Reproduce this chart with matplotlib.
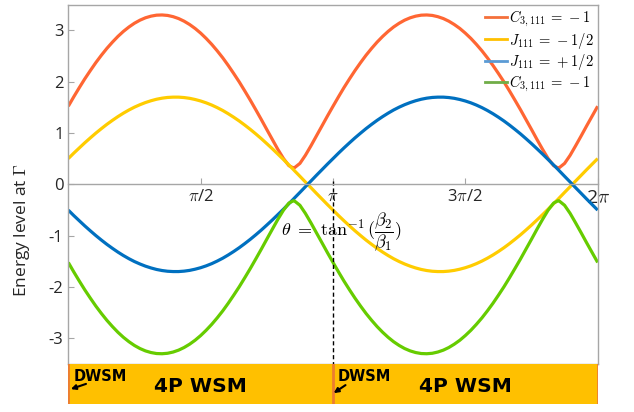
import numpy as np
import matplotlib
matplotlib.use('Agg')
from matplotlib import pyplot as plt
from matplotlib.lines import Line2D

plt.rcParams['font.family'] = 'Open Sans'
plt.rcParams['mathtext.fontset'] = 'cm'

# angle theta (rad) and the four energy levels
theta = [0.000, 0.065, 0.131, 0.196, 0.262, 0.327, 0.393, 0.458, 0.524, 0.589, 0.654, 0.720, 0.785,
         0.851, 0.916, 0.982, 1.047, 1.113, 1.178, 1.244, 1.309, 1.374, 1.440, 1.505, 1.571, 1.636,
         1.702, 1.767, 1.833, 1.898, 1.963, 2.029, 2.094, 2.160, 2.225, 2.291, 2.356, 2.422, 2.487,
         2.553, 2.618, 2.671, 2.683, 2.749, 2.814, 2.880, 2.945, 3.011, 3.076, 3.142, 3.207, 3.272,
         3.338, 3.403, 3.469, 3.534, 3.600, 3.665, 3.731, 3.796, 3.861, 3.927, 3.992, 4.058, 4.123,
         4.189, 4.254, 4.320, 4.385, 4.451, 4.516, 4.581, 4.647, 4.712, 4.778, 4.843, 4.909, 4.974,
         5.040, 5.105, 5.171, 5.236, 5.301, 5.367, 5.432, 5.498, 5.563, 5.629, 5.694, 5.760, 5.813,
         5.825, 5.890, 5.956, 6.021, 6.087, 6.152, 6.218, 6.283]
c3_up = [1.522, 1.706, 1.885, 2.056, 2.218, 2.372, 2.516, 2.649, 2.771, 2.882, 2.980, 3.066, 3.139,
         3.199, 3.245, 3.277, 3.296, 3.300, 3.291, 3.267, 3.230, 3.179, 3.114, 3.037, 2.946, 2.843,
         2.728, 2.602, 2.465, 2.317, 2.160, 1.995, 1.821, 1.640, 1.454, 1.262, 1.068, 0.873, 0.682,
         0.505, 0.365, 0.320, 0.322, 0.408, 0.566, 0.751, 0.944, 1.139, 1.332, 1.522,
         1.706, 1.885, 2.056, 2.218, 2.372, 2.516, 2.649, 2.771, 2.882, 2.980, 3.066, 3.139, 3.199,
         3.245, 3.277, 3.296, 3.300, 3.291, 3.267, 3.230, 3.179, 3.114, 3.037, 2.946, 2.843, 2.728,
         2.602, 2.465, 2.317, 2.160, 1.995, 1.821, 1.640, 1.454, 1.262, 1.068, 0.873, 0.682, 0.505,
         0.365, 0.320, 0.322, 0.408, 0.566, 0.751, 0.944, 1.139, 1.332, 1.522]
j_minus = [0.502, 0.608, 0.710, 0.810, 0.906, 0.998, 1.086, 1.169, 1.247, 1.320, 1.387, 1.449, 1.504,
           1.552, 1.594, 1.629, 1.658, 1.679, 1.693, 1.699, 1.699, 1.691, 1.676, 1.653, 1.624, 1.588,
           1.545, 1.495, 1.439, 1.376, 1.308, 1.234, 1.155, 1.071, 0.983, 0.890, 0.793, 0.693, 0.590,
           0.485, 0.377, 0.289, 0.268, 0.157, 0.046, -0.065, -0.176, -0.286, -0.395, -0.502,
           -0.608, -0.710, -0.810, -0.906, -0.998, -1.086, -1.169, -1.247, -1.320, -1.387, -1.449,
           -1.504, -1.552, -1.594, -1.629, -1.658, -1.679, -1.693, -1.699, -1.699, -1.691, -1.676,
           -1.653, -1.624, -1.588, -1.545, -1.495, -1.439, -1.376, -1.308, -1.234, -1.155, -1.071,
           -0.983, -0.890, -0.793, -0.693, -0.590, -0.485, -0.377, -0.289, -0.268, -0.157, -0.046,
           0.065, 0.176, 0.286, 0.395, 0.502]
j_plus = [-0.502, -0.608, -0.710, -0.810, -0.906, -0.998, -1.086, -1.169, -1.247, -1.320, -1.387,
          -1.449, -1.504, -1.552, -1.594, -1.629, -1.658, -1.679, -1.693, -1.699, -1.699, -1.691,
          -1.676, -1.653, -1.624, -1.588, -1.545, -1.495, -1.439, -1.376, -1.308, -1.234, -1.155,
          -1.071, -0.983, -0.890, -0.793, -0.693, -0.590, -0.485, -0.377, -0.289, -0.268, -0.157,
          -0.046, 0.065, 0.176, 0.286, 0.395, 0.502,
          0.608, 0.710, 0.810, 0.906, 0.998, 1.086, 1.169, 1.247, 1.320, 1.387, 1.449, 1.504, 1.552,
          1.594, 1.629, 1.658, 1.679, 1.693, 1.699, 1.699, 1.691, 1.676, 1.653, 1.624, 1.588, 1.545,
          1.495, 1.439, 1.376, 1.308, 1.234, 1.155, 1.071, 0.983, 0.890, 0.793, 0.693, 0.590, 0.485,
          0.377, 0.289, 0.268, 0.157, 0.046, -0.065, -0.176, -0.286, -0.395, -0.502]
c3_dn = [-1.522, -1.706, -1.885, -2.056, -2.218, -2.372, -2.516, -2.649, -2.771, -2.882, -2.980,
         -3.066, -3.139, -3.199, -3.245, -3.277, -3.296, -3.300, -3.291, -3.267, -3.230, -3.179,
         -3.114, -3.037, -2.946, -2.843, -2.728, -2.602, -2.465, -2.317, -2.160, -1.995, -1.821,
         -1.640, -1.454, -1.262, -1.068, -0.873, -0.682, -0.505, -0.365, -0.320, -0.322, -0.408,
         -0.566, -0.751, -0.944, -1.139, -1.332, -1.522,
         -1.706, -1.885, -2.056, -2.218, -2.372, -2.516, -2.649, -2.771, -2.882, -2.980, -3.066,
         -3.139, -3.199, -3.245, -3.277, -3.296, -3.300, -3.291, -3.267, -3.230, -3.179, -3.114,
         -3.037, -2.946, -2.843, -2.728, -2.602, -2.465, -2.317, -2.160, -1.995, -1.821, -1.640,
         -1.454, -1.262, -1.068, -0.873, -0.682, -0.505, -0.365, -0.320, -0.322, -0.408, -0.566,
         -0.751, -0.944, -1.139, -1.332, -1.522]

labels = [r'$C_{3,111}\,=\,-1$', r'$J_{111}\,=\,-1/2$', r'$J_{111}\,=\,+1/2$', r'$C_{3,111}\,=\,-1$']
line_colors = ['#FF6633', '#FFCC00', '#0070C0', '#66CC00']
legend_colors = ['#F4703B', '#FFC000', '#5B9BD5', '#70AD47']

xticks = [np.pi / 2, np.pi, 3 * np.pi / 2, 2 * np.pi]
xticklabels = [r'$\pi$/2', r'$\pi$', r'3$\pi$/2', r'2$\pi$']
yticks = [-3, -2, -1, 0, 1, 2, 3]

band_labels = ['4P WSM', '4P WSM']
band_pos = [np.pi / 2, 3 * np.pi / 2]

W, H = 634, 412
fig = plt.figure(figsize=(W / 100, H / 100), dpi=100)
ax = fig.add_axes([68.3 / W, 1 - 364 / H, 529.4 / W, 359.3 / H])
band = fig.add_axes([68.3 / W, 1 - 404.3 / H, 529.4 / W, 40 / H])

gray = '#A6A6A6'
for ys, c in zip([c3_up, j_minus, j_plus, c3_dn], line_colors):
    ax.plot(theta, ys, color=c, lw=2.3, solid_capstyle='butt')

ax.set_xlim(0, 2 * np.pi)
ax.set_ylim(-3.5, 3.5)

for s in ax.spines.values():
    s.set_color(gray)
    s.set_linewidth(1)
ax.spines['bottom'].set_position(('data', 0))
ax.plot([0, 1], [0, 0], transform=ax.transAxes, color=gray, lw=1, clip_on=False)

ax.set_yticks(yticks)
ax.set_yticklabels([str(v) if v >= 0 else '-' + str(-v) for v in yticks])
ax.set_xticks(xticks)
ax.set_xticklabels(xticklabels)
ax.tick_params(axis='both', direction='in', length=4, color=gray, labelsize=12, labelcolor='#262626')
ax.tick_params(axis='x', pad=3)
ax.get_xticklabels()[-1].set_fontsize(14)

ax.set_ylabel(r'Energy level at $\Gamma$', fontsize=12.5, color='#262626')
ax.yaxis.set_label_coords(-0.069, 0.373)

# dashed marker at theta = pi
ax.plot([np.pi, np.pi], [0.06, -3.5], color='black', lw=1, dashes=(3, 2))
ax.text(2.53, -0.94, r'$\theta\ =\ \tan^{-1}(\dfrac{\beta_2}{\beta_1})$', fontsize=13, ha='left', va='center')

handles = [Line2D([], [], color=c, lw=2) for c in legend_colors]
ax.legend(handles, labels, loc='upper right', bbox_to_anchor=(1.0, 1.0), frameon=False, fontsize=10.5,
          handlelength=1.5, handletextpad=0.1, labelspacing=0.1, borderaxespad=0.0, borderpad=0.3)

# bottom band with the phase labels
band.set_xlim(0, 2 * np.pi)
band.set_ylim(0, 1)
band.set_facecolor('#FFC000')
band.set_xticks([])
band.set_yticks([])
for s in band.spines.values():
    s.set_visible(False)
for x in [0, np.pi, 2 * np.pi]:
    band.axvline(x, color='#ED7D31', lw=2)
for x, t in zip(band_pos, band_labels):
    band.text(x, 0.31, t, ha='center', va='baseline', fontsize=14.5, fontweight='bold', family='DejaVu Sans')
for x0, ax0, ay0, ax1, ay1 in [(0.06, 0.21, 0.51, 0.03, 0.38), (3.20, 3.29, 0.48, 3.15, 0.28)]:
    band.text(x0, 0.58, 'DWSM', ha='left', va='baseline', fontsize=10.5, fontweight='bold', family='DejaVu Sans')
    band.annotate('', xy=(ax1, ay1), xytext=(ax0, ay0),
                  arrowprops=dict(arrowstyle='-|>', color='black', lw=1.5, mutation_scale=7,
                                  shrinkA=0, shrinkB=0))

fig.savefig('out.png', dpi=100)
